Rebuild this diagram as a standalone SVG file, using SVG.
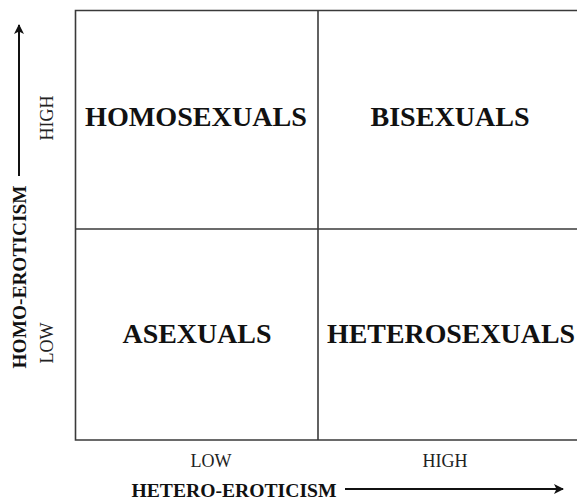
<svg xmlns="http://www.w3.org/2000/svg" width="577" height="502" viewBox="0 0 577 502">
<defs>
<style>
.grid{stroke:#3a3a3a;stroke-width:1.6;fill:none}
.q{font-family:"Liberation Serif","Times New Roman",serif;font-weight:bold;font-size:27px;fill:#111;text-anchor:middle}
.ax{font-family:"Liberation Serif","Times New Roman",serif;font-size:18px;fill:#222;text-anchor:middle}
.axt{font-family:"Liberation Serif","Times New Roman",serif;font-weight:bold;font-size:19px;fill:#111;text-anchor:middle}
.arr{stroke:#111;stroke-width:2;fill:none}
</style>
<marker id="ah" viewBox="0 0 10 10" refX="9" refY="5" markerWidth="5" markerHeight="5" orient="auto" markerUnits="strokeWidth">
<path d="M0,0 L10,5 L0,10 L2.5,5 Z" fill="#111"/>
</marker>
</defs>
<rect width="577" height="502" fill="#fff"/>
<g id="grid">
<path class="grid" d="M577,10.5 H75.5 V440 H577"/>
<line class="grid" x1="318" y1="10.5" x2="318" y2="440"/>
<line class="grid" x1="75.5" y1="229" x2="577" y2="229"/>
</g>
<g id="homosexuals"><text class="q" x="196" y="126" textLength="222" lengthAdjust="spacingAndGlyphs">HOMOSEXUALS</text></g>
<g id="bisexuals"><text class="q" x="450" y="126" textLength="159" lengthAdjust="spacingAndGlyphs">BISEXUALS</text></g>
<g id="asexuals"><text class="q" x="197" y="343" textLength="149" lengthAdjust="spacingAndGlyphs">ASEXUALS</text></g>
<g id="heterosexuals"><text class="q" x="451" y="343" textLength="248" lengthAdjust="spacingAndGlyphs">HETEROSEXUALS</text></g>
<g id="axis-labels">
<text class="ax" x="211" y="467">LOW</text>
<text class="ax" x="445" y="467">HIGH</text>
<text class="axt" x="234" y="497" textLength="205" lengthAdjust="spacingAndGlyphs">HETERO-EROTICISM</text>
<text class="ax" transform="translate(53,118) rotate(-90)" x="0" y="0">HIGH</text>
<text class="ax" transform="translate(53,343) rotate(-90)" x="0" y="0">LOW</text>
<text class="axt" transform="translate(26,277) rotate(-90)" x="0" y="0" textLength="183" lengthAdjust="spacingAndGlyphs">HOMO-EROTICISM</text>
</g>
<g id="connectors">
<line class="arr" x1="345" y1="489" x2="563" y2="489" marker-end="url(#ah)"/>
<line class="arr" x1="19" y1="176" x2="19" y2="25" marker-end="url(#ah)"/>
</g>
</svg>
